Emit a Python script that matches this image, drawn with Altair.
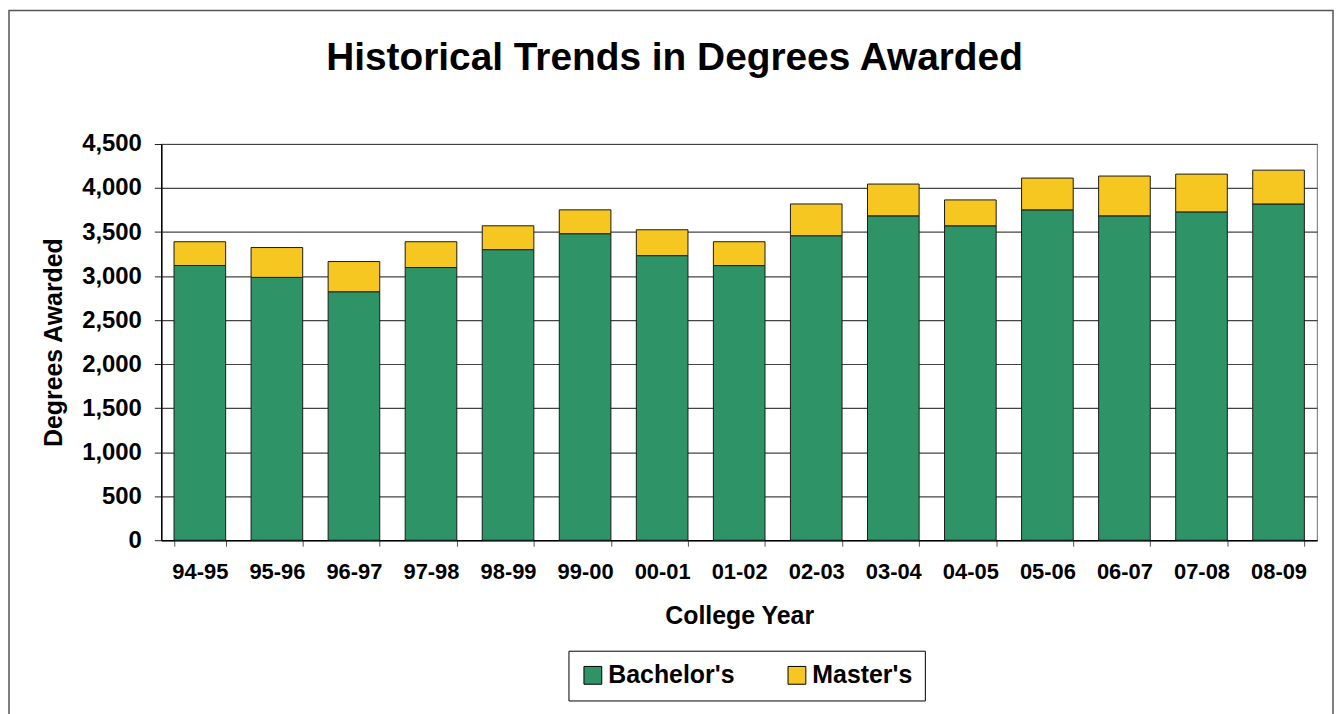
import altair as alt
import pandas as pd

years = ["94-95", "95-96", "96-97", "97-98", "98-99", "99-00", "00-01", "01-02",
         "02-03", "03-04", "04-05", "05-06", "06-07", "07-08", "08-09"]
bachelors = [3120, 2985, 2822, 3097, 3300, 3481, 3232, 3119, 3458, 3684, 3571, 3752, 3684, 3729, 3819]
masters = [270, 339, 343, 293, 271, 271, 294, 271, 361, 361, 294, 361, 452, 429, 384]
series = ["Bachelor's", "Master's"]
colors = ["#2E9467", "#F5C720"]

rows = []
for y, b, m in zip(years, bachelors, masters):
    rows.append({"year": y, "degree": series[0], "value": b, "ord": 0})
    rows.append({"year": y, "degree": series[1], "value": m, "ord": 1})
df = pd.DataFrame(rows)

FONT = "Liberation Sans"

bars = alt.Chart(df).mark_bar(stroke="#1a1a1a", strokeWidth=1).encode(
    x=alt.X("year:N", sort=years, title="College Year",
            scale=alt.Scale(paddingInner=0.33, paddingOuter=0.165),
            axis=alt.Axis(labelAngle=0, tickBand="extent", labelFontSize=22, labelFont=FONT,
                          labelFontWeight="bold", labelColor="black", labelPadding=15,
                          tickSize=6, tickColor="#555", domainColor="black", domainWidth=1.5,
                          titleFontSize=25, titleFont=FONT, titleFontWeight="bold",
                          titleColor="black", titlePadding=22, grid=False)),
    y=alt.Y("value:Q", stack="zero", title="Degrees Awarded",
            scale=alt.Scale(domain=[0, 4500], nice=False),
            axis=alt.Axis(values=list(range(0, 4501, 500)), format=",d", labelFontSize=24,
                          labelFont=FONT, labelFontWeight="bold", labelColor="black",
                          labelPadding=13, tickSize=7, tickColor="#222", domainColor="black",
                          domainWidth=1.5, gridColor="#444", gridWidth=1.2,
                          titleFontSize=25, titleFont=FONT, titleFontWeight="bold",
                          titleColor="black", titlePadding=15)),
    color=alt.Color("degree:N", scale=alt.Scale(domain=series, range=colors),
                    legend=alt.Legend(title=None, orient="none", legendX=409, legendY=509,
                                      direction="horizontal", symbolType="square",
                                      symbolSize=320, symbolStrokeColor="black",
                                      symbolStrokeWidth=1, symbolOpacity=1,
                                      labelFontSize=25, labelFont=FONT, labelFontWeight="bold",
                                      labelColor="black", labelOffset=3, columnPadding=50,
                                      padding=12, strokeColor="black", fillColor="white",
                                      labelLimit=300)),
    order=alt.Order("ord:Q", sort="ascending"),
)

border = alt.Chart(pd.DataFrame({"k": [0]})).mark_rect(
    fill=None, stroke="#555", strokeWidth=1.5
).encode(
    x=alt.value(-153), x2=alt.value(1177), y=alt.value(-134), y2=alt.value(585)
)

chart = alt.layer(border, bars).properties(
    width=1161, height=398,
    title=alt.TitleParams("Historical Trends in Degrees Awarded", fontSize=39, font=FONT,
                          fontWeight="bold", color="black", anchor="middle", dx=-65,
                          offset=-68),
    autosize=alt.AutoSizeParams(type="none"),
    padding={"left": 154, "top": 135, "right": 18, "bottom": 180},
).configure_view(stroke="#888", strokeWidth=1.2)

chart.save("out.html", embed_options={"renderer": "svg", "actions": False})
